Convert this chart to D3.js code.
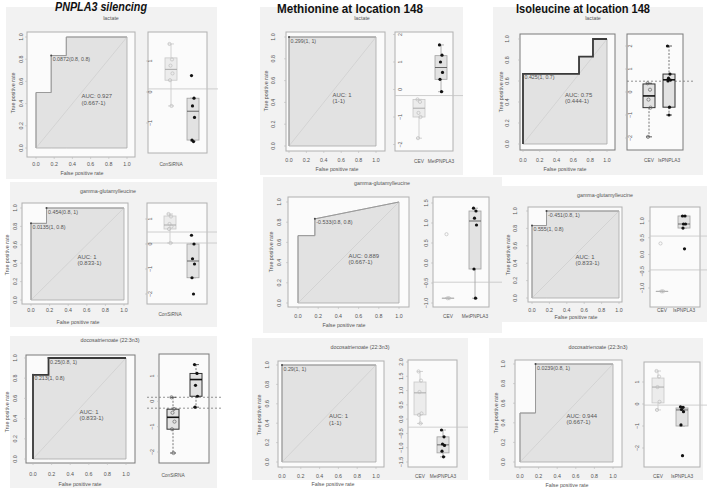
<!DOCTYPE html>
<html><head><meta charset="utf-8">
<script src="https://cdn.jsdelivr.net/npm/d3@7"></script>
<style>body{margin:0;background:#fff}svg{display:block}text{font-family:"Liberation Sans",Arial,sans-serif;fill:#555}</style>
</head><body><div id="chart"></div>
<script>
// ---------------- DATA ----------------
const columnTitles = ["PNPLA3 silencing", "Methionine  at location 148", "Isoleucine at location 148"];
const metabolites = ["lactate", "gamma-glutamylleucine", "docosatrienoate (22:3n3)"];
const fprTicks = [0, 0.2, 0.4, 0.6, 0.8, 1.0];
const tprTicks = [0, 0.2, 0.4, 0.6, 0.8, 1.0];

// ROC curves: [false positive rate, true positive rate]
const rocA1 = [[0,0],[0,0.5],[0.167,0.5],[0.167,0.833],[0.333,0.833],[0.333,1],[1,1]];
const rocB1 = [[0,0],[0,1],[1,1]];
const rocC1 = [[0,0],[0,0.667],[0.667,0.667],[0.667,0.833],[0.833,0.833],[0.833,1],[1,1]];
const rocA2 = [[0,0],[0,0.833],[0.167,0.833],[0.167,1],[1,1]];
const rocB2 = [[0,0],[0,0.667],[0.167,0.667],[0.167,0.833],[1,1]];
const rocC2 = [[0,0],[0,0.833],[0.167,0.833],[0.167,1],[1,1]];
const rocA3 = [[0,0],[0,0.833],[0.167,0.833],[0.167,1],[1,1]];
const rocB3 = [[0,0],[0,1],[1,1]];
const rocC3 = [[0,0],[0,0.5],[0.167,0.5],[0.167,1],[1,1]];

// threshold annotations
const thrA1 = [{fpr:0.167, tpr:0.833, label:"0.0872(0.8, 0.8)"}];
const thrB1 = [{fpr:0, tpr:1, label:"0.299(1, 1)"}];
const thrC1 = [{fpr:0, tpr:0.667, label:"0.425(1, 0.7)"}];
const thrA2 = [{fpr:0.167, tpr:1, label:"0.454(0.8, 1)"}, {fpr:0, tpr:0.833, label:"0.0135(1, 0.8)"}];
const thrB2 = [{fpr:0.167, tpr:0.833, label:"-0.533(0.8, 0.8)"}];
const thrC2 = [{fpr:0.167, tpr:1, label:"-0.451(0.8, 1)"}, {fpr:0, tpr:0.833, label:"0.555(1, 0.8)"}];
const thrA3 = [{fpr:0.167, tpr:1, label:"0.25(0.8, 1)"}, {fpr:0, tpr:0.833, label:"0.213(1, 0.8)"}];
const thrB3 = [{fpr:0, tpr:1, label:"0.29(1, 1)"}];
const thrC3 = [{fpr:0.167, tpr:1, label:"0.0239(0.8, 1)"}];

// AUC texts
const aucA1 = ["AUC: 0.927", "(0.667-1)"];
const aucB1 = ["AUC: 1", "(1-1)"];
const aucC1 = ["AUC: 0.75", "(0.444-1)"];
const aucA2 = ["AUC: 1", "(0.833-1)"];
const aucB2 = ["AUC: 0.889", "(0.667-1)"];
const aucC2 = ["AUC: 1", "(0.833-1)"];
const aucA3 = ["AUC: 1", "(0.833-1)"];
const aucB3 = ["AUC: 1", "(1-1)"];
const aucC3 = ["AUC: 0.944", "(0.667-1)"];

// box plot group names
const groupsA = ["ConSiRNA", ""];
const groupsB = ["CEV", "MetPNPLA3"];
const groupsC = ["CEV", "IsPNPLA3"];

// box statistics [low whisker, q1, median, q3, high whisker]
const boxA1 = [[-0.45,0.38,0.73,1.1,1.55], [-1.58,-1.55,-0.62,-0.2,-0.2]];
const boxB1 = [[-1.77,-1.0,-0.68,-0.36,-0.36], [-0.08,0.37,0.8,1.23,1.62]];
const boxC1 = [[-1.95,-0.68,-0.17,0.35,0.38], [-1.0,-0.66,0.53,0.78,2.0]];
const boxA2 = [[0.04,0.6,0.76,1.12,1.2], [-1.35,-1.35,-0.68,0.0,0.0]];
const boxB2 = [[-0.88,-0.88,-0.88,-0.88,-0.88], [-0.88,-0.15,1.05,1.3,1.37]];
const boxC2 = [[-1.1,-1.1,-1.1,-1.1,-1.1], [0.79,0.79,0.91,1.15,1.15]];
const boxA3 = [[-2.04,-1.1,-0.63,-0.31,0.16], [-0.23,0.2,0.86,1.1,1.45]];
const boxB3 = [[-0.15,0.15,0.92,1.3,1.67], [-1.32,-1.18,-0.9,-0.62,-0.38]];
const boxC3 = [[-0.27,0.05,0.77,1.18,1.5], [-1.0,-1.0,-0.27,-0.18,-0.13]];

// individual points per group
const ptsA1 = [[1.55,1.05,0.85,0.6,0.38,-0.45], [0.53,-0.2,-0.45,-0.82,-1.55,-1.6]];
const ptsB1 = [[-0.36,-0.45,-0.85,-1.0,-1.77], [1.62,1.25,1.0,0.62,0.37,-0.08]];
const ptsC1 = [[0.38,0.1,-0.33,-0.68,-1.95], [2.0,0.78,0.6,0.52,0.48,-0.66,-1.0]];
const ptsA2 = [[1.2,1.1,0.8,0.7,0.6,0.04], [0.35,0.0,-0.59,-0.8,-1.35,-2.0]];
const ptsB2 = [[0.72,-0.88,-0.88], [1.37,1.3,1.12,0.95,-0.15,-0.88]];
const ptsC2 = [[0.33,-1.1,-1.1], [1.15,1.15,0.91,0.91,0.79,0.17]];
const ptsA3 = [[0.16,-0.3,-0.45,-0.8,-1.1,-2.04], [1.45,1.1,0.63,0.2,-0.23]];
const ptsB3 = [[1.67,1.35,0.95,0.2,0.15,-0.15], [-0.38,-0.62,-0.87,-0.92,-1.12,-1.32]];
const ptsC3 = [[1.5,1.25,0.77,0.1,-0.27], [-0.13,-0.15,-0.25,-0.35,-0.95,-2.35]];

// box plot axis ticks
const ticksA1 = [1,0,-1];
const ticksB1 = [2,1,0,-1,-2];
const ticksC1 = [2,1,0,-1,-2];
const ticksA2 = [1,0,-1,-2];
const ticksB2 = [1.5,1.0,0.5,0.0,-0.5,-1.0];
const ticksC2 = [1.0,0.5,0.0,-0.5,-1.0];
const ticksA3 = [1,0,-1,-2];
const ticksB3 = [2.0,1.5,1.0,0.5,0.0,-0.5,-1.0,-1.5];
const ticksC3 = [1,0,-1,-2];

// reference lines on box plots
const refA1 = [0.1];
const refB1 = [-0.22];
const refC1 = [0.47];
const refA2 = [0.48, 0.04];
const refB2 = [-0.48];
const refC2 = [0.55, -0.46];
const refA3 = [0.16, -0.27];
const refB3 = [-0.28];
const refC3 = [-0.05];

const panels = [
  {id:"A1", col:0, row:0, roc:rocA1, thr:thrA1, auc:aucA1, groups:groupsA, box:boxA1, pts:ptsA1, ticks:ticksA1, ref:refA1, fmt:"d"},
  {id:"B1", col:1, row:0, roc:rocB1, thr:thrB1, auc:aucB1, groups:groupsB, box:boxB1, pts:ptsB1, ticks:ticksB1, ref:refB1, fmt:"d"},
  {id:"C1", col:2, row:0, roc:rocC1, thr:thrC1, auc:aucC1, groups:groupsC, box:boxC1, pts:ptsC1, ticks:ticksC1, ref:refC1, fmt:"d"},
  {id:"A2", col:0, row:1, roc:rocA2, thr:thrA2, auc:aucA2, groups:groupsA, box:boxA2, pts:ptsA2, ticks:ticksA2, ref:refA2, fmt:"d"},
  {id:"B2", col:1, row:1, roc:rocB2, thr:thrB2, auc:aucB2, groups:groupsB, box:boxB2, pts:ptsB2, ticks:ticksB2, ref:refB2, fmt:".1f"},
  {id:"C2", col:2, row:1, roc:rocC2, thr:thrC2, auc:aucC2, groups:groupsC, box:boxC2, pts:ptsC2, ticks:ticksC2, ref:refC2, fmt:".1f"},
  {id:"A3", col:0, row:2, roc:rocA3, thr:thrA3, auc:aucA3, groups:groupsA, box:boxA3, pts:ptsA3, ticks:ticksA3, ref:refA3, fmt:"d"},
  {id:"B3", col:1, row:2, roc:rocB3, thr:thrB3, auc:aucB3, groups:groupsB, box:boxB3, pts:ptsB3, ticks:ticksB3, ref:refB3, fmt:".1f"},
  {id:"C3", col:2, row:2, roc:rocC3, thr:thrC3, auc:aucC3, groups:groupsC, box:boxC3, pts:ptsC3, ticks:ticksC3, ref:refC3, fmt:"d"}
];

// ---------------- LAYOUT ----------------
const layout = {
  A1:{bg:[6,7,211,172], title:[111,18], frame:[27,32,135,157], plot:[36,127,148,37], ytX:21, ytitle:[13,93], xtY:164, xtitle:[82,173], box:[148,32,207,153], anchor:[[1,61],[-1,123]], btX:150, gx:[171,193], glabY:164, refX:[148,218], dark:false, dash:false},
  B1:{bg:[260,7,203,168], title:[362,18], frame:[286,32,385,151], plot:[289,376,146,37], ytX:273, ytitle:[266,91], xtY:160, xtitle:[337,169], box:[395,32,453,151], anchor:[[1,62],[-1,117]], btX:400, gx:[419,441], glabY:161, refX:[395,463], dark:false, dash:false},
  C1:{bg:[493,7,210,168], title:[593,18], frame:[520,34,615,150], plot:[523,607,144,39], ytX:507, ytitle:[501,92], xtY:160, xtitle:[565,169], box:[627,34,683,150], anchor:[[2,46],[-2,138]], btX:630, gx:[649,669], glabY:160, refX:[627,693], dark:true, dash:true},
  A2:{bg:[10,182,207,145], title:[108,191], frame:[22,203,128,304], plot:[31,124,300,208], ytX:15, ytitle:[7,255], xtY:310, xtitle:[78,322], box:[147,203,207,304], anchor:[[1,219],[-2,294]], btX:150, gx:[170,193], glabY:314, refX:[147,217], dark:false, dash:false},
  B2:{bg:[263,177,239,156], title:[382,183], frame:[288,197,409,307], plot:[298,399,303,202], ytX:279, ytitle:[271,252], xtY:316, xtitle:[344,325], box:[433,197,489,307], anchor:[[1.5,203],[-1,303]], btX:426, gx:[448,475], glabY:316, refX:[433,502], dark:false, dash:false},
  C2:{bg:[502,186,205,136], title:[605,195], frame:[528,207,622,302], plot:[532,619,298,211], ytX:515, ytitle:[508,255], xtY:310, xtitle:[576,317], box:[650,207,700,307], anchor:[[1,221],[-1,288]], btX:642, gx:[662,684], glabY:310, refX:[650,707], dark:false, dash:false},
  A3:{bg:[10,336,207,152], title:[110,340], frame:[26,355,135,463], plot:[33,126,459,358], ytX:15, ytitle:[7,412], xtY:474, xtitle:[80,484], box:[159,354,209,463], anchor:[[1,376],[-2,452]], btX:152, gx:[173,196], glabY:475, refX:[147,222], dark:true, dash:true},
  B3:{bg:[252,338,216,142], title:[360,347], frame:[278,361,384,467], plot:[282,376,462,365], ytX:267, ytitle:[259,415], xtY:476, xtitle:[333,484], box:[408,360,457,467], anchor:[[2,362],[-1.5,462]], btX:401, gx:[420,443], glabY:476, refX:[408,468], dark:false, dash:false},
  C3:{bg:[489,338,214,142], title:[598,347], frame:[515,360,622,467], plot:[520,613,462,364], ytX:503, ytitle:[496,413], xtY:476, xtitle:[567,485], box:[644,362,700,467], anchor:[[1,382],[-2,448]], btX:637, gx:[658,682], glabY:476, refX:[644,707], dark:false, dash:false}
};
const colTitleLayout = [
  {x:101, y:11, w:92, italic:true, size:12.5},
  {x:350, y:12.5, w:146, italic:false, size:13},
  {x:583, y:12.5, w:134, italic:false, size:13}
];

// ---------------- DRAW ----------------
const W = 707, H = 490;
const svg = d3.select("#chart").append("svg").attr("width", W).attr("height", H);
svg.append("rect").attr("width", W).attr("height", H).attr("fill", "#fff");

const jit = [-1.5, 1, -0.5, 1.5, -1, 0.5, 0];
const FS = 5.3;

function drawPanel(P, L) {
  const g = svg.append("g");
  g.append("rect").attr("x", L.bg[0]).attr("y", L.bg[1]).attr("width", L.bg[2]).attr("height", L.bg[3]).attr("fill", "#f2f2f2");
  g.append("text").attr("x", L.title[0]).attr("y", L.title[1] + 2).attr("text-anchor", "middle")
    .attr("font-size", FS).text(metabolites[P.row]);

  // ---- ROC ----
  const x = d3.scaleLinear().domain([0, 1]).range([L.plot[0], L.plot[1]]);
  const y = d3.scaleLinear().domain([0, 1]).range([L.plot[2], L.plot[3]]);
  const frameCol = L.dark ? "#7a7a7a" : "#b0b0b0";
  g.append("rect").attr("x", L.frame[0]).attr("y", L.frame[1])
    .attr("width", L.frame[2] - L.frame[0]).attr("height", L.frame[3] - L.frame[1])
    .attr("fill", "#fbfbfb").attr("stroke", frameCol).attr("stroke-width", 1);
  const area = d3.area().x(d => x(d[0])).y0(y(0)).y1(d => y(d[1]));
  g.append("path").datum(P.roc).attr("d", area).attr("fill", "#e2e2e2")
    .attr("stroke", "#a8a8a8").attr("stroke-width", 0.8);
  g.append("line").attr("x1", x(0)).attr("y1", y(0)).attr("x2", x(1)).attr("y2", y(1))
    .attr("stroke", "#cfcfcf").attr("stroke-width", 0.8);
  const line = d3.line().x(d => x(d[0])).y(d => y(d[1]));
  g.append("path").datum(P.roc).attr("d", line).attr("fill", "none")
    .attr("stroke", L.dark ? "#3a3a3a" : "#9a9a9a").attr("stroke-width", L.dark ? 1.8 : 1);
  P.thr.forEach(t => {
    g.append("circle").attr("cx", x(t.fpr)).attr("cy", y(t.tpr)).attr("r", 1).attr("fill", "#444");
    g.append("text").attr("x", x(t.fpr) + 1.5).attr("y", y(t.tpr) + 5.5).attr("font-size", FS).text(t.label);
  });
  P.auc.forEach((s, i) => {
    g.append("text").attr("x", x(0.5)).attr("y", y(0.45) + i * 6.5).attr("font-size", 5.9).text(s);
  });
  fprTicks.forEach(v => {
    g.append("line").attr("x1", x(v)).attr("x2", x(v)).attr("y1", L.frame[3]).attr("y2", L.frame[3] + 2).attr("stroke", "#bbb").attr("stroke-width", 0.6);
    g.append("text").attr("x", x(v)).attr("y", L.xtY + 2).attr("text-anchor", "middle").attr("font-size", FS).text(d3.format(".1f")(v));
  });
  tprTicks.forEach(v => {
    g.append("line").attr("x1", L.frame[0]).attr("x2", L.frame[0] - 2).attr("y1", y(v)).attr("y2", y(v)).attr("stroke", "#bbb").attr("stroke-width", 0.6);
    g.append("text").attr("transform", `translate(${L.ytX + 2},${y(v)}) rotate(-90)`)
      .attr("text-anchor", "middle").attr("font-size", FS).text(d3.format(".1f")(v));
  });
  g.append("text").attr("transform", `translate(${L.ytitle[0] + 2},${L.ytitle[1]}) rotate(-90)`)
    .attr("text-anchor", "middle").attr("font-size", FS).text("True positive rate");
  g.append("text").attr("x", L.xtitle[0]).attr("y", L.xtitle[1] + 2).attr("text-anchor", "middle")
    .attr("font-size", FS).text("False positive rate");

  // ---- BOX PLOT ----
  const yb = d3.scaleLinear().domain([L.anchor[0][0], L.anchor[1][0]]).range([L.anchor[0][1], L.anchor[1][1]]);
  g.append("rect").attr("x", L.box[0]).attr("y", L.box[1])
    .attr("width", L.box[2] - L.box[0]).attr("height", L.box[3] - L.box[1])
    .attr("fill", "#fbfbfb").attr("stroke", frameCol).attr("stroke-width", 1);
  P.ref.forEach(v => {
    g.append("line").attr("x1", L.refX[0]).attr("x2", L.refX[1]).attr("y1", yb(v)).attr("y2", yb(v))
      .attr("stroke", L.dash ? "#777" : "#c4c4c4").attr("stroke-width", 0.8)
      .attr("stroke-dasharray", L.dash ? "2,2" : null);
  });
  const bw = 12;
  P.box.forEach((s, i) => {
    const cx = L.gx[i];
    const faint = i === 0 && !L.dark;
    const sc = L.dark ? "#333" : (faint ? "#c8c8c8" : "#a0a0a0");
    const [lo, q1, med, q3, hi] = s;
    const wl = g.append("g").attr("stroke", L.dark ? "#555" : sc).attr("stroke-width", 0.8)
      .attr("stroke-dasharray", L.dark ? "2,1.5" : null);
    wl.append("line").attr("x1", cx).attr("x2", cx).attr("y1", yb(hi)).attr("y2", yb(q3));
    wl.append("line").attr("x1", cx).attr("x2", cx).attr("y1", yb(q1)).attr("y2", yb(lo));
    [hi, lo].forEach(v => g.append("line").attr("x1", cx - bw / 4).attr("x2", cx + bw / 4)
      .attr("y1", yb(v)).attr("y2", yb(v)).attr("stroke", sc).attr("stroke-width", 0.8));
    g.append("rect").attr("x", cx - bw / 2).attr("y", yb(q3)).attr("width", bw)
      .attr("height", Math.max(0.01, yb(q1) - yb(q3)))
      .attr("fill", faint ? "#ececec" : "#e2e2e2").attr("stroke", sc).attr("stroke-width", L.dark ? 1 : 0.8);
    g.append("line").attr("x1", cx - bw / 2).attr("x2", cx + bw / 2).attr("y1", yb(med)).attr("y2", yb(med))
      .attr("stroke", L.dark ? "#111" : (faint ? "#aaa" : "#666")).attr("stroke-width", L.dark ? 1.6 : 1);
    P.pts[i].forEach((v, k) => {
      const c = g.append("circle").attr("cx", cx + jit[k % jit.length]).attr("cy", yb(v)).attr("r", 1.6);
      if (i === 0) c.attr("fill", "none").attr("stroke", L.dark ? "#666" : "#bdbdbd").attr("stroke-width", 0.7);
      else c.attr("fill", "#111");
    });
    if (P.groups[i]) g.append("text").attr("x", cx).attr("y", L.glabY + 2).attr("text-anchor", "middle")
      .attr("font-size", 4.8).text(P.groups[i]);
  });
  P.ticks.forEach(v => {
    g.append("line").attr("x1", L.box[0]).attr("x2", L.box[0] - 2).attr("y1", yb(v)).attr("y2", yb(v)).attr("stroke", "#bbb").attr("stroke-width", 0.6);
    g.append("text").attr("transform", `translate(${L.btX + 2},${yb(v)}) rotate(-90)`)
      .attr("text-anchor", "middle").attr("font-size", FS).text(d3.format(P.fmt)(v));
  });
}

panels.forEach(p => drawPanel(p, layout[p.id]));

columnTitles.forEach((t, i) => {
  const c = colTitleLayout[i];
  svg.append("text").attr("x", c.x).attr("y", c.y).attr("text-anchor", "middle")
    .attr("font-family", "Lato, 'Open Sans', sans-serif").attr("font-weight", "bold")
    .attr("font-style", c.italic ? "italic" : "normal").attr("font-size", c.size)
    .attr("textLength", c.w).attr("lengthAdjust", "spacingAndGlyphs")
    .style("fill", "#111").text(t);
});
</script></body></html>
